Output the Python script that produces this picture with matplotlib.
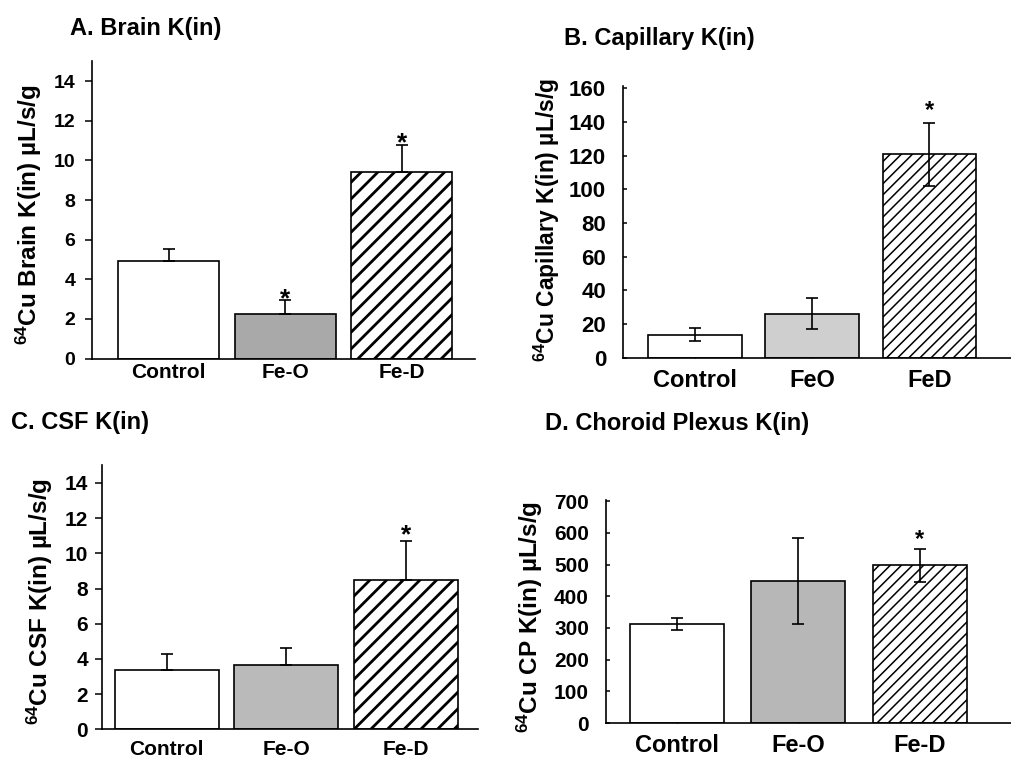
import matplotlib
matplotlib.use("Agg")
import matplotlib.pyplot as plt

plt.rcParams.update({
    "font.family": ["Liberation Sans", "DejaVu Sans"],
    "font.weight": "bold",
    "mathtext.fontset": "custom",
    "mathtext.rm": "Liberation Sans:bold",
    "mathtext.bf": "Liberation Sans:bold",
    "mathtext.default": "rm",
    "axes.linewidth": 1.2,
})

# data
brain_cats = ["Control", "Fe-O", "Fe-D"]
brain_mean = [4.9, 2.25, 9.4]
brain_err = [0.65, 0.68, 1.4]
brain_sig = [False, True, True]

cap_cats = ["Control", "FeO", "FeD"]
cap_mean = [13.8, 26.0, 120.8]
cap_err = [3.8, 9.2, 18.6]
cap_sig = [False, False, True]

csf_cats = ["Control", "Fe-O", "Fe-D"]
csf_mean = [3.36, 3.65, 8.5]
csf_err = [0.91, 0.98, 2.2]
csf_sig = [False, False, True]

cp_cats = ["Control", "Fe-O", "Fe-D"]
cp_mean = [313, 449, 497]
cp_err = [18, 136, 53]
cp_sig = [False, False, True]

fig = plt.figure(figsize=(10.11, 7.58), dpi=100)


def panel(rect, cats, means, errs, sig, gray, hatch, hatch_lw, width, xlim, ylim,
          yticks, both_err, capsize, tick_dir, tick_len, ysize, xsize,
          ypad, xpad, star_off, star_size):
    ax = fig.add_axes(rect)
    x = list(range(len(cats)))
    bars = ax.bar(x, means, width=width, color=["white", gray, "white"],
                  edgecolor="black", linewidth=1.2, zorder=2)
    bars[2].set_hatch(hatch)
    if hasattr(bars[2], "set_hatch_linewidth"):
        bars[2].set_hatch_linewidth(hatch_lw)
    if both_err:
        yerr = errs
    else:
        yerr = [[0] * len(errs), errs]   # upper half only
    ax.errorbar(x, means, yerr=yerr, fmt="none", ecolor="black",
                elinewidth=1.2, capsize=capsize, capthick=1.2, zorder=3)
    for xi, m, e, s in zip(x, means, errs, sig):
        if s:
            ax.annotate("*", xy=(xi, m + e), xytext=(0, star_off),
                        textcoords="offset points", ha="center",
                        va="baseline", fontsize=star_size, fontweight="bold")
    ax.set_xlim(*xlim)
    ax.set_ylim(*ylim)
    ax.set_yticks(yticks)
    ax.set_xticks(x)
    ax.set_xticklabels(cats, fontsize=xsize, fontweight="bold")
    ax.set_yticklabels([str(t) for t in yticks], fontsize=ysize, fontweight="bold")
    ax.spines["top"].set_visible(False)
    ax.spines["right"].set_visible(False)
    ax.tick_params(axis="y", direction=tick_dir, length=tick_len, width=1.1, pad=ypad)
    if tick_dir == "in":
        ax.tick_params(axis="x", direction="in", length=3, width=1.0, pad=xpad)
    else:
        ax.tick_params(axis="x", length=0, pad=xpad)
    return ax


# A. Brain
axA = panel([0.091, 0.527, 0.379, 0.392], brain_cats, brain_mean, brain_err,
            brain_sig, "#a9a9a9", "//", 2.0, 0.867, (-0.657, 2.631), (0, 15),
            list(range(0, 15, 2)), False, 4, "out", 5, 14, 15, 7, 3, -4, 19)
# B. Capillary
axB = panel([0.616, 0.528, 0.384, 0.358], cap_cats, cap_mean, cap_err,
            cap_sig, "#cfcfcf", "///", 1.1, 0.80, (-0.614, 2.695), (0, 161),
            list(range(0, 161, 20)), True, 4.5, "in", 3, 16, 17, 12, 8, 4, 17)
# C. CSF
axC = panel([0.101, 0.038, 0.372, 0.348], csf_cats, csf_mean, csf_err,
            csf_sig, "#bababa", "//", 2.0, 0.87, (-0.54, 2.607), (0, 15),
            list(range(0, 15, 2)), False, 4, "out", 5, 15, 15, 5, 8, -1, 19)
# D. Choroid plexus
axD = panel([0.599, 0.046, 0.401, 0.295], cp_cats, cp_mean, cp_err,
            cp_sig, "#b7b7b7", "///", 1.1, 0.774, (-0.584, 2.749), (0, 705),
            list(range(0, 701, 100)), True, 4.5, "in", 3, 15, 17, 12, 8, 2, 17)

# panel titles
fig.text(70 / 1011, 1 - 28 / 758, "A. Brain K(in)", fontsize=17,
         fontweight="bold", va="center", ha="left")
fig.text(564 / 1011, 1 - 38 / 758, "B. Capillary K(in)", fontsize=17,
         fontweight="bold", va="center", ha="left")
fig.text(11 / 1011, 1 - 422 / 758, "C. CSF K(in)", fontsize=17,
         fontweight="bold", va="center", ha="left")
fig.text(545 / 1011, 1 - 423 / 758, "D. Choroid Plexus K(in)", fontsize=17,
         fontweight="bold", va="center", ha="left")

# y-axis labels
fig.text(29 / 1011, 1 - 215 / 758, r"${}^{64}$Cu Brain K(in) µL/s/g",
         rotation=90, fontsize=17.5, fontweight="bold", ha="center", va="center")
fig.text(547 / 1011, 1 - 220 / 758, r"${}^{64}$Cu Capillary K(in) µL/s/g",
         rotation=90, fontsize=16.5, fontweight="bold", ha="center", va="center")
fig.text(40 / 1011, 1 - 602 / 758, r"${}^{64}$Cu CSF K(in) µL/s/g",
         rotation=90, fontsize=17.5, fontweight="bold", ha="center", va="center")
fig.text(530 / 1011, 1 - 617 / 758, r"${}^{64}$Cu CP K(in) µL/s/g",
         rotation=90, fontsize=17.5, fontweight="bold", ha="center", va="center")

fig.savefig("out.png", dpi=100, facecolor="white")
